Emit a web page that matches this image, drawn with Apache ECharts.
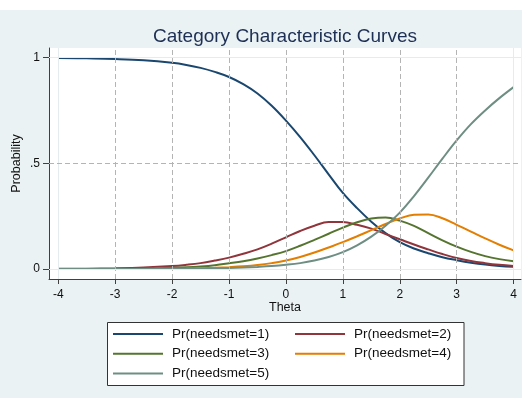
<!DOCTYPE html>
<html>
<head>
<meta charset="utf-8">
<script src="https://cdn.jsdelivr.net/npm/echarts@6/dist/echarts.min.js"></script>
<style>
html,body{margin:0;padding:0;background:#fff;}
#c{width:522px;height:398px;}
</style>
</head>
<body>
<div id="c"></div>
<script>
const theta = [-4,-3.5,-3,-2.5,-2,-1.75,-1.5,-1.25,-1,-0.75,-0.5,-0.25,0,0.25,0.5,0.75,1,1.25,1.5,1.75,2,2.25,2.5,2.75,3,3.25,3.5,3.75,4];
const p1 = [0.998,0.996,0.993,0.987,0.975,0.965,0.951,0.932,0.908,0.874,0.830,0.772,0.702,0.624,0.538,0.448,0.360,0.288,0.224,0.170,0.127,0.097,0.075,0.056,0.042,0.030,0.021,0.015,0.011];
const p2 = [0.0012,0.002,0.0035,0.007,0.014,0.020,0.028,0.040,0.054,0.072,0.093,0.120,0.150,0.180,0.205,0.222,0.222,0.209,0.191,0.166,0.141,0.116,0.093,0.071,0.052,0.038,0.028,0.020,0.014];
const p3 = [0.0003,0.0006,0.001,0.003,0.006,0.008,0.012,0.018,0.027,0.037,0.050,0.066,0.085,0.110,0.138,0.167,0.196,0.221,0.239,0.244,0.229,0.204,0.170,0.136,0.106,0.081,0.061,0.047,0.037];
const p4 = [0.0001,0.0002,0.0004,0.0008,0.0017,0.0025,0.004,0.006,0.009,0.013,0.019,0.028,0.040,0.057,0.078,0.102,0.127,0.155,0.184,0.213,0.239,0.257,0.258,0.240,0.209,0.177,0.145,0.115,0.088];
const p5 = [0.0001,0.0001,0.0003,0.0006,0.0012,0.0017,0.0025,0.0035,0.005,0.007,0.010,0.014,0.020,0.028,0.040,0.057,0.080,0.112,0.153,0.205,0.267,0.345,0.432,0.522,0.608,0.685,0.750,0.808,0.860];
const seriesNames = ['Pr(needsmet=1)','Pr(needsmet=2)','Pr(needsmet=3)','Pr(needsmet=4)','Pr(needsmet=5)'];
const seriesValues = [p1,p2,p3,p4,p5];
const colors = ['#1a476f','#90353b','#55752f','#e37e00','#6e8e84'];
const xTicks = [-4,-3,-2,-1,0,1,2,3,4];
const yTicks = [0,0.5,1];
const yTickLabels = ['0','.5','1'];
const titleText = 'Category Characteristic Curves';

const FONT = '"Liberation Sans", Arial, sans-serif';
const chart = echarts.init(document.getElementById('c'), null, {renderer:'canvas'});

const gridLines = [];
xTicks.forEach(v => {
  const edge = (v === xTicks[0] || v === xTicks[xTicks.length-1]);
  gridLines.push({xAxis: v, lineStyle: edge ? {color:'#e4ecee', type:'solid', width:1} : {color:'#b4b4b4', type:[5,3], width:1}});
});
yTicks.forEach(v => {
  const edge = (v === yTicks[0] || v === yTicks[yTicks.length-1]);
  gridLines.push({yAxis: v, lineStyle: edge ? {color:'#e4ecee', type:'solid', width:1} : {color:'#b4b4b4', type:[5,3], width:1}});
});

const series = [{
  name: '_grid', type: 'line', data: [[0,0.5]], symbol: 'none', z: 1,
  lineStyle: {opacity: 0}, silent: true,
  markLine: {silent: true, symbol: ['none','none'], label: {show:false}, animation:false, data: gridLines}
}];
seriesNames.forEach((n,i) => {
  series.push({
    name: n, type: 'line', z: 3,
    data: theta.map((t,k) => [t, seriesValues[i][k]]),
    symbol: 'none', smooth: 0.4,
    lineStyle: {color: colors[i], width: 2},
    itemStyle: {color: colors[i]}
  });
});

const legendCommon = {
  orient: 'vertical', icon: 'rect', itemWidth: 50, itemHeight: 2, itemGap: 5.7, padding: 0,
  textStyle: {fontFamily: FONT, fontSize: 13.5, color: '#111', lineHeight: 14, padding: [0,0,0,4]},
  selectedMode: false, top: 327
};

chart.setOption({
  animation: false,
  backgroundColor: '#eaf2f3',
  color: colors,
  title: {
    text: titleText, left: 280, top: 22, textAlign: 'center',
    textStyle: {fontFamily: FONT, fontSize: 19, fontWeight: 'normal', color: '#1e2f55'}
  },
  graphic: [
    {type:'rect', z: 0, shape:{x:0,y:0,width:522,height:10}, style:{fill:'#ffffff'}},
    {type:'rect', z: 0, shape:{x:107.5,y:322.5,width:356.5,height:63}, style:{fill:'#ffffff', stroke:'#333333', lineWidth:1}}
  ],
  legend: [
    Object.assign({left: 113, data: [seriesNames[0], seriesNames[2], seriesNames[4]]}, legendCommon),
    Object.assign({left: 295, data: [seriesNames[1], seriesNames[3]]}, legendCommon)
  ],
  grid: {left: 49, top: 48, right: 1, bottom: 119, show: true, backgroundColor: '#ffffff', borderWidth: 0, containLabel: false},
  xAxis: {
    type: 'value', min: -4.163, max: 4.13,
    name: 'Theta', nameLocation: 'middle', nameGap: 22, nameMoveOverlap: false,
    nameTextStyle: {fontFamily: FONT, fontSize: 12.5, color: '#111'},
    axisLine: {show: true, onZero: false, lineStyle: {color: '#404040', width: 1}},
    axisTick: {show: true, length: 5, lineStyle: {color: '#404040'}, customValues: xTicks},
    axisLabel: {fontFamily: FONT, fontSize: 12, color: '#111', margin: 10, customValues: xTicks,
      formatter: v => String(v)},
    splitLine: {show: false}
  },
  yAxis: {
    type: 'value', min: -0.047, max: 1.045,
    name: 'Probability', nameLocation: 'middle', nameGap: 26, nameRotate: 90, nameMoveOverlap: false,
    nameTextStyle: {fontFamily: FONT, fontSize: 12.5, color: '#111'},
    axisLine: {show: true, onZero: false, lineStyle: {color: '#404040', width: 1}},
    axisTick: {show: true, length: 6, lineStyle: {color: '#404040'}, customValues: yTicks},
    axisLabel: {fontFamily: FONT, fontSize: 12, color: '#111', margin: 9, customValues: yTicks,
      formatter: v => { const i = yTicks.indexOf(v); return i >= 0 ? yTickLabels[i] : ''; }},
    splitLine: {show: false}
  },
  series: series
});
</script>
</body>
</html>
